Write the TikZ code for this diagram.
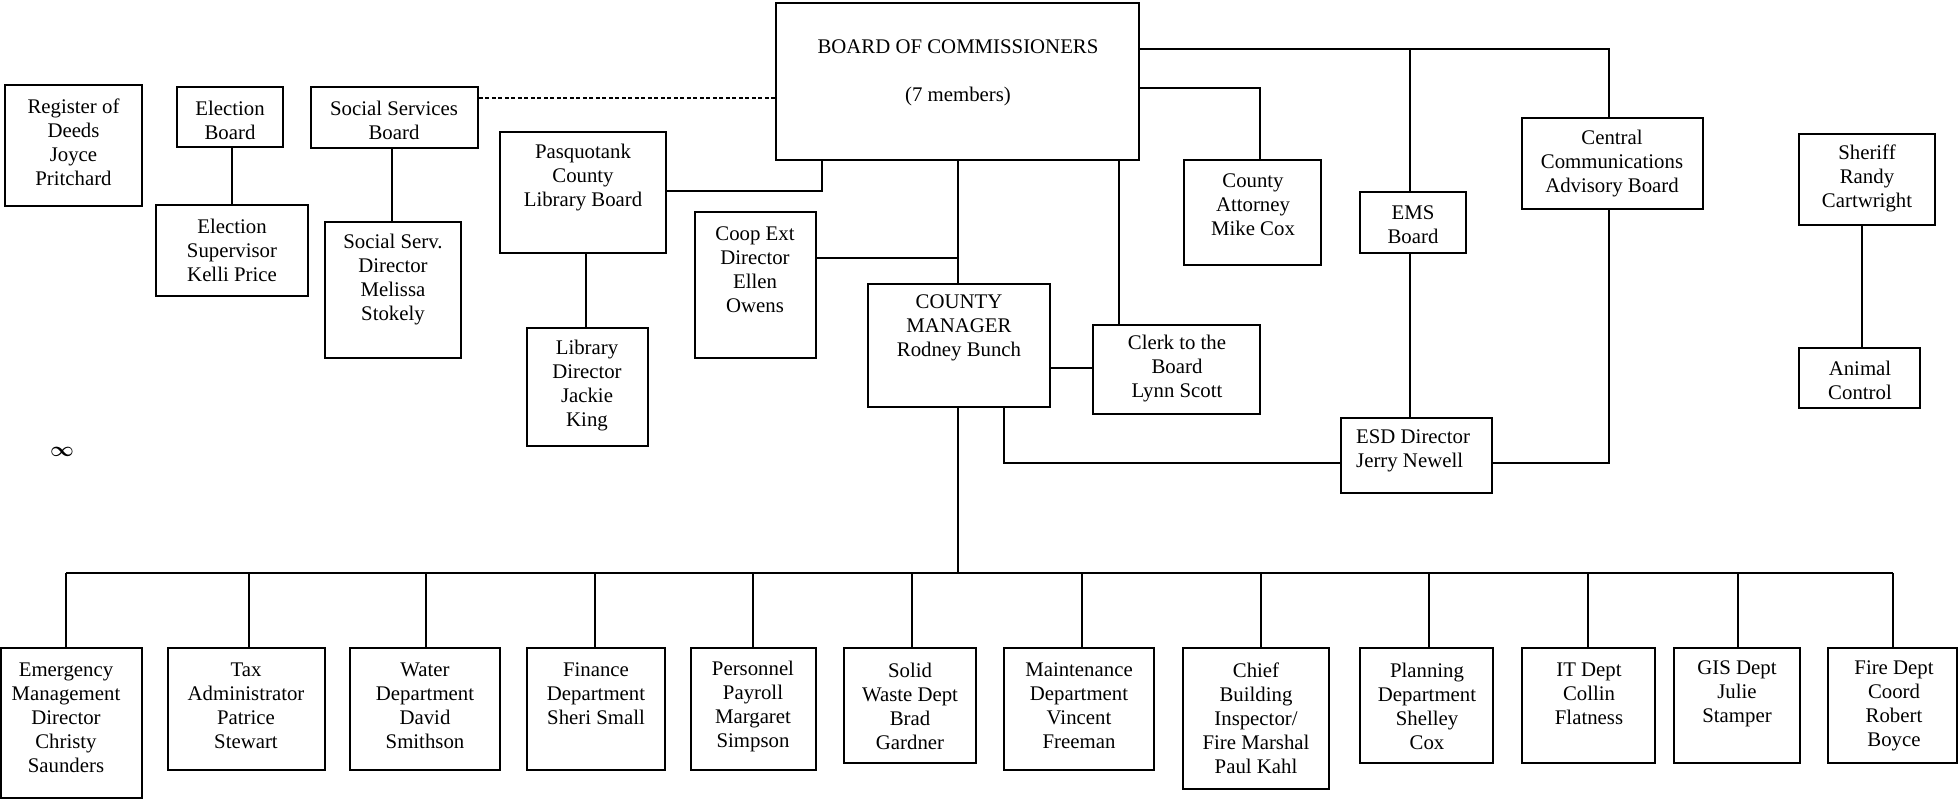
\documentclass[tikz,border=0pt]{standalone}
\usepackage{fontspec}
\setmainfont{Liberation Serif}
\usetikzlibrary{fit}
\begin{document}
\begin{tikzpicture}[x=1pt,y=-1pt,
  bx/.style={draw, line width=1.6pt, inner sep=0pt, rectangle},
  tx/.style={inner sep=0pt, align=center, yshift=2.5pt, font=\fontsize{20.8}{24}\selectfont},
  ln/.style={line width=1.4pt},
  dsh/.style={line width=1.3pt, dash pattern=on 4pt off 2.5pt}]
\useasboundingbox (0,0) rectangle (1959,800);
% top boxes
\node[bx, fit={(5,85)(142,206)}] (reg) {};
\node[tx] (reg-t) at (73.5,145) {Register of\\Deeds\\Joyce\\Pritchard};
\node[bx, fit={(177,87)(283,147)}] (elb) {};
\node[tx] (elb-t) at (230,122.5) {Election\\Board};
\node[bx, fit={(156,205)(308,296)}] (els) {};
\node[tx] (els-t) at (232,253) {Election\\Supervisor\\Kelli Price};
\node[bx, fit={(311,87)(478,148)}] (ssb) {};
\node[tx] (ssb-t) at (394,122.5) {Social Services\\Board};
\node[bx, fit={(325,222)(461,358)}] (ssd) {};
\node[tx] (ssd-t) at (393,282) {Social Serv.\\Director\\Melissa\\Stokely};
\node[bx, fit={(500,132)(666,253)}] (lib) {};
\node[tx] (lib-t) at (583,180) {Pasquotank\\County\\Library Board};
\node[bx, fit={(527,328)(648,446)}] (libd) {};
\node[tx] (libd-t) at (587,388) {Library\\Director\\Jackie\\King};
\node[bx, fit={(695,212)(816,358)}] (coop) {};
\node[tx] (coop-t) at (755,272.5) {Coop Ext\\Director\\Ellen\\Owens};
\node[bx, fit={(776,3)(1139,160)}] (boc) {};
\node[tx] (boc-t) at (958,75.5) {BOARD OF COMMISSIONERS\\[24pt](7 members)};
\node[bx, fit={(868,284)(1050,407)}] (cm) {};
\node[tx] (cm-t) at (959,330.5) {COUNTY\\MANAGER\\Rodney Bunch};
\node[bx, fit={(1093,325)(1260,414)}] (clerk) {};
\node[tx] (clerk-t) at (1177,371) {Clerk to the\\Board\\Lynn Scott};
\node[bx, fit={(1184,160)(1321,265)}] (att) {};
\node[tx] (att-t) at (1253,207) {County\\Attorney\\Mike Cox};
\node[bx, fit={(1360,192)(1466,253)}] (ems) {};
\node[tx] (ems-t) at (1413,227) {EMS\\Board};
\node[bx, fit={(1522,118)(1703,209)}] (ccab) {};
\node[tx] (ccab-t) at (1612,166.5) {Central\\Communications\\Advisory Board};
\node[bx, fit={(1799,134)(1935,225)}] (sher) {};
\node[tx] (sher-t) at (1867,181) {Sheriff\\Randy\\Cartwright};
\node[bx, fit={(1799,348)(1920,408)}] (ani) {};
\node[tx] (ani-t) at (1860,383) {Animal\\Control};
\node[bx, fit={(1341,418)(1492,493)}] (esd) {};
\node[tx, align=left, anchor=west] (esd-t) at (1356,453.5) {ESD Director\\Jerry Newell};
\node[inner sep=0pt, font=\fontsize{20.8}{24}\selectfont\boldmath] (inf) at (62,452) {$\infty$};
% bottom row
\node[bx, fit={(1,648)(142,798)}] (emg) {};
\node[tx] (emg-t) at (66,720.5) {Emergency\\Management\\Director\\Christy\\Saunders};
\node[bx, fit={(168,648)(325,770)}] (tax) {};
\node[tx] (tax-t) at (246,708.5) {Tax\\Administrator\\Patrice\\Stewart};
\node[bx, fit={(350,648)(500,770)}] (wat) {};
\node[tx] (wat-t) at (425,708.5) {Water\\Department\\David\\Smithson};
\node[bx, fit={(527,648)(665,770)}] (fin) {};
\node[tx] (fin-t) at (596,696) {Finance\\Department\\Sheri Small};
\node[bx, fit={(691,648)(816,770)}] (per) {};
\node[tx] (per-t) at (753,708.5) {Personnel\\Payroll\\Margaret\\Simpson};
\node[bx, fit={(844,648)(976,763)}] (sol) {};
\node[tx] (sol-t) at (910,708.5) {Solid\\Waste Dept\\Brad\\Gardner};
\node[bx, fit={(1004,648)(1154,770)}] (mnt) {};
\node[tx] (mnt-t) at (1079,708.5) {Maintenance\\Department\\Vincent\\Freeman};
\node[bx, fit={(1183,648)(1329,789)}] (chf) {};
\node[tx] (chf-t) at (1256,720.5) {Chief\\Building\\Inspector/\\Fire Marshal\\Paul Kahl};
\node[bx, fit={(1360,648)(1493,763)}] (pln) {};
\node[tx] (pln-t) at (1427,708.5) {Planning\\Department\\Shelley\\Cox};
\node[bx, fit={(1522,648)(1655,763)}] (it) {};
\node[tx] (it-t) at (1589,696) {IT Dept\\Collin\\Flatness};
\node[bx, fit={(1674,648)(1800,763)}] (gis) {};
\node[tx] (gis-t) at (1737,696) {GIS Dept\\Julie\\Stamper};
\node[bx, fit={(1828,648)(1957,763)}] (fire) {};
\node[tx] (fire-t) at (1894,708.5) {Fire Dept\\Coord\\Robert\\Boyce};
% connectors
\coordinate (k1) at (232,0);
\draw[ln] (k1 |- elb.south) -- (k1 |- els.north);
\coordinate (k2) at (392,0);
\draw[ln] (k2 |- ssb.south) -- (k2 |- ssd.north);
\coordinate (k3) at (0,98);
\draw[dsh] (k3 -| ssb.east) -- (k3 -| boc.west);
\coordinate (k4) at (586,0);
\draw[ln] (k4 |- lib.south) -- (k4 |- libd.north);
\coordinate (k5) at (822,191);
\draw[ln] (k5 -| lib.east) -- (k5) -- (k5 |- boc.south);
\coordinate (k6) at (958,258);
\draw[ln] (k6 |- boc.south) -- (k6 |- cm.north);
\draw[ln] (k6 -| coop.east) -- (k6);
\coordinate (k7) at (1119,0);
\draw[ln] (k7 |- boc.south) -- (k7 |- clerk.north);
\coordinate (k8) at (0,368);
\draw[ln] (k8 -| cm.east) -- (k8 -| clerk.west);
\coordinate (k9) at (1260,88);
\draw[ln] (k9 -| boc.east) -- (k9) -- (k9 |- att.north);
\coordinate (k10) at (1609,49);
\draw[ln] (k10 -| boc.east) -- (k10) -- (k10 |- ccab.north);
\coordinate (k11) at (1410,49);
\draw[ln] (k11) -- (k11 |- ems.north);
\draw[ln] (k11 |- ems.south) -- (k11 |- esd.north);
\coordinate (k12) at (1609,463);
\draw[ln] (k12 |- ccab.south) -- (k12) -- (k12 -| esd.east);
\coordinate (k13) at (1004,463);
\draw[ln] (k13 |- cm.south) -- (k13) -- (k13 -| esd.west);
\coordinate (k14) at (1862,0);
\draw[ln] (k14 |- sher.south) -- (k14 |- ani.north);
\coordinate (bus) at (958,573);
\draw[ln] (bus |- cm.south) -- (bus);
\coordinate (busL) at (66,573);
\coordinate (busR) at (1893,573);
\draw[ln] (busL) -- (busR);
\foreach \n/\x in {emg/66,tax/249,wat/426,fin/595,per/753,sol/912,mnt/1082,chf/1261,pln/1429,it/1588,gis/1738,fire/1893}{
  \coordinate (s) at (\x,573);
  \draw[ln] (s) -- (s |- \n.north);
}
\end{tikzpicture}
\end{document}
